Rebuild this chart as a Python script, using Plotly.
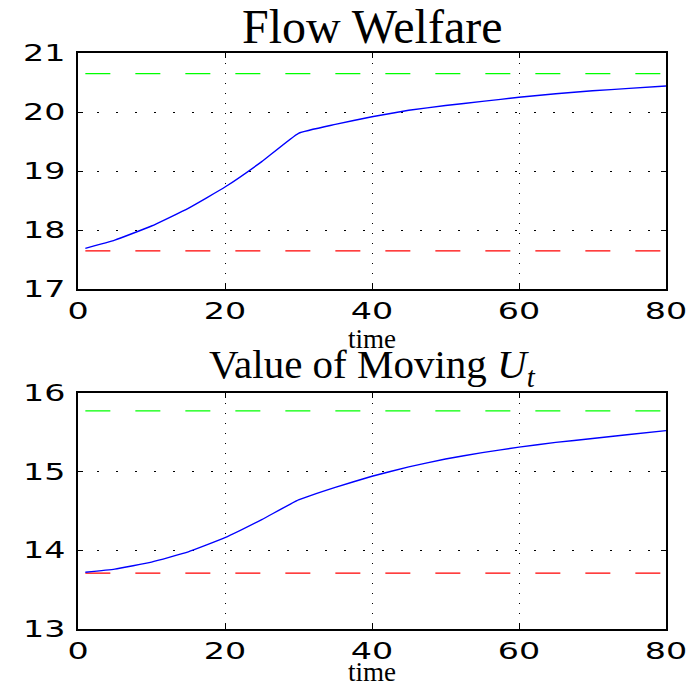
import plotly.graph_objects as go
from plotly.subplots import make_subplots

# time grid sampled along the path
t = [1, 5, 10, 15, 20, 25, 30, 35, 40, 45, 50, 55, 60, 65, 70, 75, 80]

# flow welfare along the transition
flow_welfare = [17.69, 17.83, 18.07, 18.37, 18.73, 19.16, 19.64, 19.79, 19.92,
                20.03, 20.11, 20.18, 20.25, 20.31, 20.36, 20.40, 20.44]
flow_high = 20.65
flow_low = 17.65

# value of moving U_t along the transition
value_moving = [13.72, 13.76, 13.85, 13.98, 14.16, 14.39, 14.64, 14.80, 14.94,
                15.06, 15.16, 15.24, 15.31, 15.37, 15.42, 15.47, 15.52]
value_high = 15.77
value_low = 13.71

x_ticks = [0, 20, 40, 60, 80]
flow_ticks = [17, 18, 19, 20, 21]
value_ticks = [13, 14, 15, 16]

fig = make_subplots(rows=2, cols=1, vertical_spacing=0.18)

def add_panel(row, series, hi, lo):
    x_span = [t[0], t[-1]]
    fig.add_trace(go.Scatter(x=x_span, y=[hi, hi], mode="lines",
                             line=dict(color="#00ff00", width=1.3, dash="25px,25px")),
                  row=row, col=1)
    fig.add_trace(go.Scatter(x=x_span, y=[lo, lo], mode="lines",
                             line=dict(color="#ff0000", width=1.3, dash="25px,25px")),
                  row=row, col=1)
    fig.add_trace(go.Scatter(x=t, y=series, mode="lines",
                             line=dict(color="#0000ff", width=1.4,
                                       shape="spline", smoothing=0.35)),
                  row=row, col=1)

add_panel(1, flow_welfare, flow_high, flow_low)
add_panel(2, value_moving, value_high, value_low)

tick_font = dict(family="DejaVu Sans", size=23, color="black")
axis_common = dict(showline=True, linecolor="black", linewidth=2, mirror="ticks",
                   ticks="inside", ticklen=5, tickcolor="black", tickwidth=1,
                   zeroline=False, showgrid=True, gridcolor="black", gridwidth=1,
                   tickfont=tick_font, automargin=False)

for r in (1, 2):
    fig.update_xaxes(range=[0, 80], tickvals=x_ticks, griddash="1px,9px",
                     title=dict(text="time", font=dict(family="Liberation Serif", size=27,
                                                       color="black"), standoff=0),
                     row=r, col=1, **axis_common)

fig.update_yaxes(range=[17, 21], tickvals=flow_ticks, griddash="2px,17px",
                 ticklabelstandoff=6, row=1, col=1, **axis_common)
fig.update_yaxes(range=[13, 16], tickvals=value_ticks, griddash="2px,17px",
                 ticklabelstandoff=6, row=2, col=1, **axis_common)

fig.update_layout(
    width=696, height=687,
    margin=dict(l=78, r=30, t=53, b=58),
    plot_bgcolor="white", paper_bgcolor="white",
    showlegend=False,
    xaxis=dict(domain=[0, 1]), yaxis=dict(domain=[0.590, 1.0]),
    xaxis2=dict(domain=[0, 1]), yaxis2=dict(domain=[0.0, 0.41]),
    annotations=[
        dict(text="Flow Welfare", x=0.5, y=1.0, xref="paper", yref="paper",
             xanchor="center", yanchor="bottom", showarrow=False, yshift=-2,
             font=dict(family="Liberation Serif", size=48, color="black")),
        dict(text="Value of Moving <i>U</i><sub><i>t</i></sub>", x=0.5, y=0.41,
             xref="paper", yref="paper", xanchor="center", yanchor="bottom",
             showarrow=False, yshift=-2,
             font=dict(family="Liberation Serif", size=41, color="black")),
    ],
)

# widen the tick label glyphs horizontally (x labels about their centre,
# y labels about their right edge)
widen_ticks = """
var gd = document.getElementById('{plot_id}');
function widen(sel, mode) {
  gd.querySelectorAll(sel).forEach(function (el) {
    var b = el.getBBox();
    var cx = mode === 'center' ? b.x + b.width / 2 : b.x + b.width;
    var base = el.getAttribute('transform') || '';
    el.setAttribute('transform', base + ' translate(' + cx + ',0) scale(1.45,1) translate(' + (-cx) + ',0)');
  });
}
widen('g.xtick text', 'center');
widen('g.x2tick text', 'center');
widen('g.ytick text', 'right');
widen('g.y2tick text', 'right');
"""

fig.write_html("out.html", post_script=widen_ticks)
